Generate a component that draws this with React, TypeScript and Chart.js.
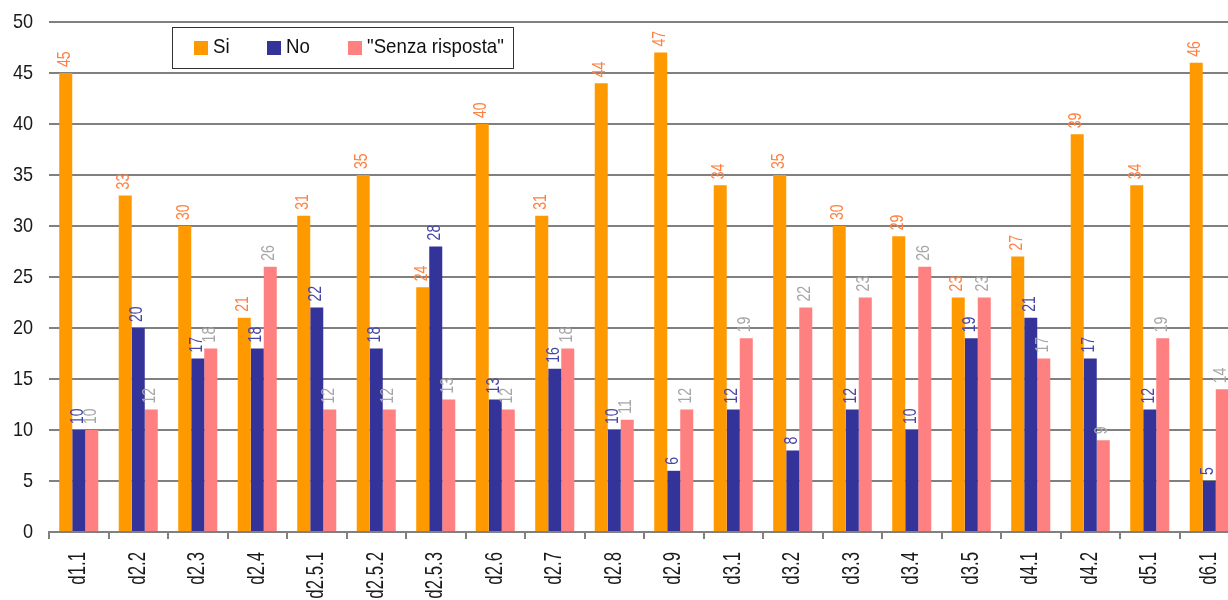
import React, { useEffect, useRef } from 'react';
import { Chart, registerables } from 'chart.js';

Chart.register(...registerables);

const categories = ['d1.1', 'd2.2', 'd2.3', 'd2.4', 'd2.5.1', 'd2.5.2', 'd2.5.3', 'd2.6', 'd2.7', 'd2.8', 'd2.9', 'd3.1', 'd3.2', 'd3.3', 'd3.4', 'd3.5', 'd4.1', 'd4.2', 'd5.1', 'd6.1'];
const siValues = [45, 33, 30, 21, 31, 35, 24, 40, 31, 44, 47, 34, 35, 30, 29, 23, 27, 39, 34, 46];
const noValues = [10, 20, 17, 18, 22, 18, 28, 13, 16, 10, 6, 12, 8, 12, 10, 19, 21, 17, 12, 5];
const senzaValues = [10, 12, 18, 26, 12, 12, 13, 12, 18, 11, 12, 19, 22, 23, 26, 23, 17, 9, 19, 14];
const seriesNames = ['Si', 'No', '"Senza risposta"'];
const barColors = ['#FF9900', '#333399', '#FF8080'];
const labelColors = ['#FF8040', '#4646A6', '#A6A6A6'];
const yMax = 50;
const yStep = 5;

const FONT = '"Liberation Sans", Arial, sans-serif';

function drawNarrowText(
  ctx: CanvasRenderingContext2D,
  text: string,
  x: number,
  y: number,
  opts: { rotate?: number; align?: CanvasTextAlign; baseline?: CanvasTextBaseline; size: number; color: string; condense: number }
) {
  ctx.save();
  ctx.translate(x, y);
  if (opts.rotate) ctx.rotate(opts.rotate);
  ctx.scale(opts.condense, 1);
  ctx.font = `${opts.size}px ${FONT}`;
  ctx.fillStyle = opts.color;
  ctx.textAlign = opts.align || 'left';
  ctx.textBaseline = opts.baseline || 'middle';
  ctx.fillText(text, 0, 0);
  ctx.restore();
}

const textPlugin = {
  id: 'narrowTexts',
  afterDatasetsDraw(chart: any) {
    const ctx = chart.ctx;
    // value labels
    chart.data.datasets.forEach((ds: any, di: number) => {
      const meta = chart.getDatasetMeta(di);
      meta.data.forEach((el: any, i: number) => {
        drawNarrowText(ctx, String(ds.data[i]), el.x - 1, el.y - 6, {
          rotate: -Math.PI / 2,
          align: 'left',
          baseline: 'middle',
          size: 18,
          condense: 0.78,
          color: labelColors[di],
        });
      });
    });
    // y tick labels
    const y = chart.scales.y;
    y.ticks.forEach((t: any) => {
      drawNarrowText(ctx, String(t.value), 33, y.getPixelForValue(t.value), {
        align: 'right',
        baseline: 'middle',
        size: 21,
        condense: 0.86,
        color: '#1A1A1A',
      });
    });
    // x category labels
    const x = chart.scales.x;
    chart.data.labels.forEach((lab: string, i: number) => {
      drawNarrowText(ctx, lab, x.getPixelForValue(i), 552, {
        rotate: -Math.PI / 2,
        align: 'right',
        baseline: 'middle',
        size: 24,
        condense: 0.7,
        color: '#1A1A1A',
      });
    });
  },
};

const legendPlugin = {
  id: 'boxLegend',
  afterDraw(chart: any) {
    const ctx = chart.ctx;
    ctx.save();
    ctx.fillStyle = '#FFFFFF';
    ctx.fillRect(172, 27, 341, 41);
    ctx.strokeStyle = '#333333';
    ctx.lineWidth = 1;
    ctx.strokeRect(172.5, 27.5, 341, 41);
    ctx.restore();
    const xs = [194, 267, 348];
    seriesNames.forEach((name, i) => {
      ctx.save();
      ctx.fillStyle = barColors[i];
      ctx.fillRect(xs[i], 41, 14, 14);
      ctx.restore();
      drawNarrowText(ctx, name, xs[i] + 19, 47, {
        align: 'left',
        baseline: 'middle',
        size: 21,
        condense: 0.89,
        color: '#111111',
      });
    });
  },
};

export default function App() {
  const canvasRef = useRef<HTMLCanvasElement | null>(null);

  useEffect(() => {
    if (!canvasRef.current) return;
    const chart = new Chart(canvasRef.current, {
      type: 'bar',
      data: {
        labels: categories,
        datasets: [
          { label: seriesNames[0], data: siValues, backgroundColor: barColors[0] },
          { label: seriesNames[1], data: noValues, backgroundColor: barColors[1] },
          { label: seriesNames[2], data: senzaValues, backgroundColor: barColors[2] },
        ],
      },
      options: {
        animation: false,
        responsive: true,
        maintainAspectRatio: false,
        layout: { padding: { top: 22, right: 0, left: 0, bottom: 0 } },
        datasets: {
          bar: { categoryPercentage: 0.656, barPercentage: 1.0 },
        },
        plugins: {
          legend: { display: false },
          tooltip: { enabled: false },
        },
        scales: {
          x: {
            offset: true,
            grid: {
              display: true,
              offset: true,
              drawOnChartArea: false,
              drawTicks: true,
              tickLength: 7,
              color: '#808080',
              lineWidth: 2,
            },
            border: { display: true, color: '#808080', width: 2 },
            ticks: { display: false, autoSkip: false },
            afterFit(scale: any) {
              scale.height = 68;
            },
          },
          y: {
            min: 0,
            max: yMax,
            grid: {
              color: '#808080',
              lineWidth: 2,
              drawTicks: false,
            },
            border: { display: false },
            ticks: { display: false, stepSize: yStep },
            afterFit(scale: any) {
              scale.width = 49;
            },
          },
        },
      },
      plugins: [textPlugin, legendPlugin],
    });
    return () => chart.destroy();
  }, []);

  return (
    <div style={{ position: 'fixed', left: 0, top: 0, width: 1228, height: 600, overflow: 'hidden', background: '#FFFFFF' }}>
      <div style={{ position: 'relative', width: 1239, height: 600 }}>
        <canvas ref={canvasRef} />
      </div>
    </div>
  );
}
